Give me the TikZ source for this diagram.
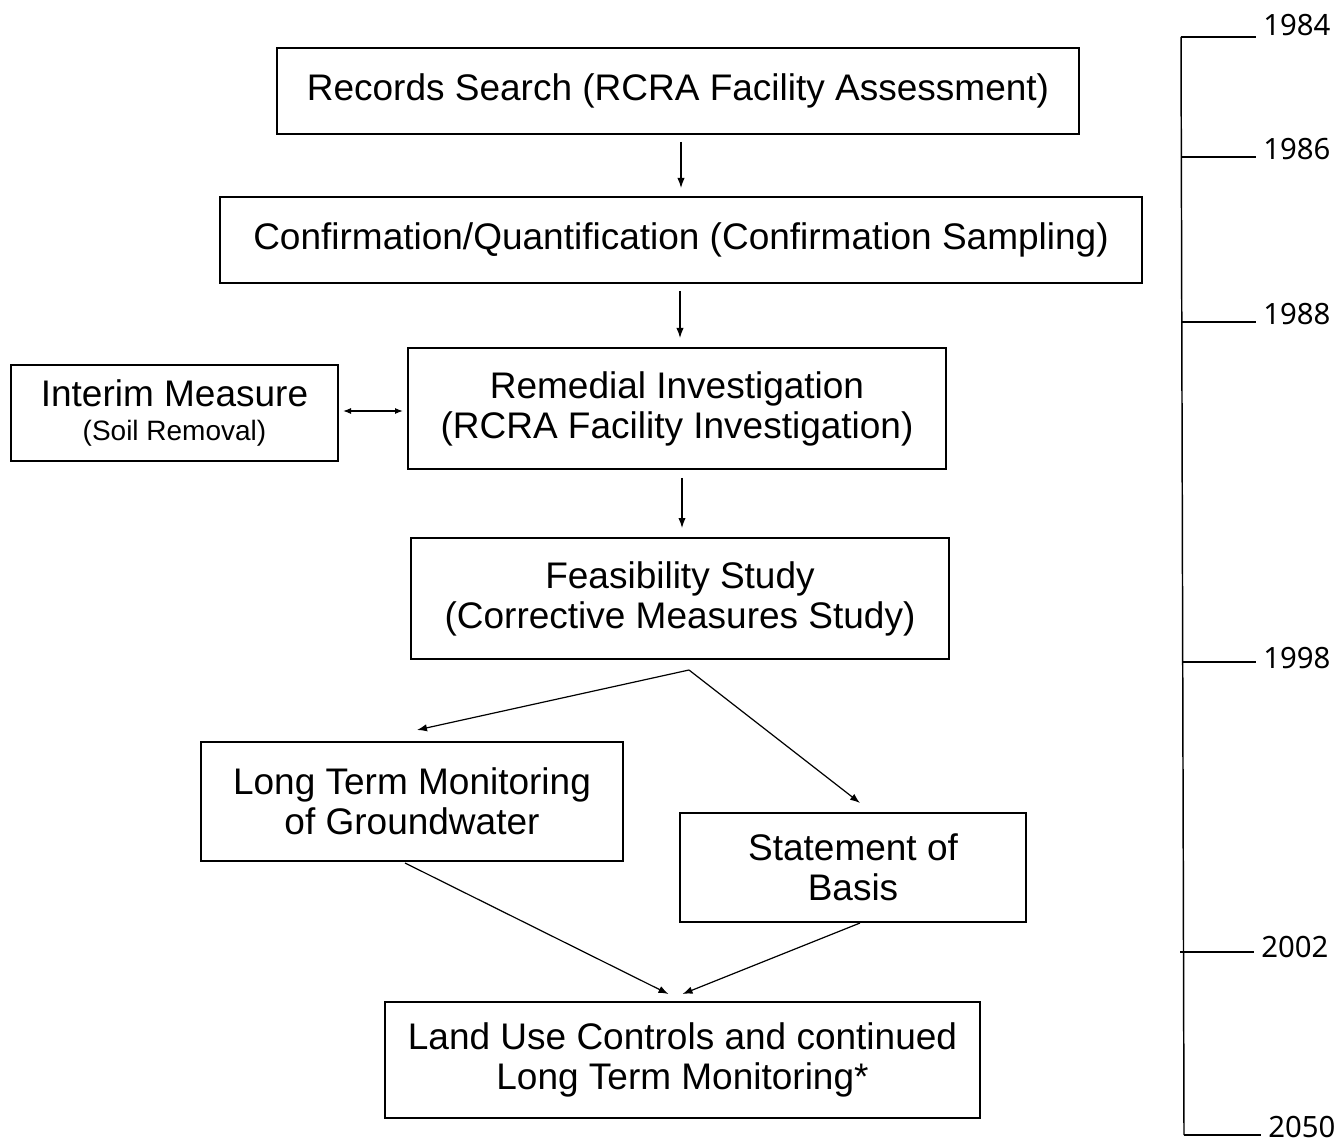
\documentclass[tikz,border=0pt]{standalone}
\usepackage{fontspec}
\setmainfont{Liberation Sans}
\newfontfamily\yearfont{Noto Sans}
\usetikzlibrary{arrows.meta,calc}
\begin{document}
\begin{tikzpicture}[x=0.75pt,y=-0.75pt,
  stepbox/.style={draw,line width=1.1pt,inner sep=0pt,outer sep=0pt,align=center,
    font=\fontsize{27.75pt}{30pt}\selectfont},
  flow/.style={line width=0.9pt,-{Latex[length=7.5pt,width=5.5pt]}},
  both/.style={line width=0.9pt,{Latex[length=6pt,width=4.5pt]}-{Latex[length=6pt,width=4.5pt]}},
  axis/.style={line width=1.1pt},
  year/.style={anchor=base west,inner sep=0pt,font=\yearfont\fontsize{22pt}{24pt}\selectfont}]
\useasboundingbox (0,0) rectangle (1338,1144);

% process boxes
\node[stepbox,minimum width={802*0.75pt},minimum height={86*0.75pt}] (rec) at (678,91)
  {Records Search (RCRA Facility Assessment)};
\node[stepbox,minimum width={922*0.75pt},minimum height={86*0.75pt}] (conf) at (681,240)
  {Confirmation/Quantification (Confirmation Sampling)};
\node[stepbox,minimum width={538*0.75pt},minimum height={121*0.75pt}] (rem) at (677,408.5)
  {Remedial Investigation\\(RCRA Facility Investigation)};
\node[stepbox,minimum width={327*0.75pt},minimum height={96*0.75pt}] (int) at (174.5,413)
  {Interim Measure\\[-4pt]{\fontsize{21pt}{24pt}\selectfont (Soil Removal)}};
\node[stepbox,minimum width={538*0.75pt},minimum height={121*0.75pt}] (feas) at (680,598.5)
  {Feasibility Study\\(Corrective Measures Study)};
\node[stepbox,minimum width={422*0.75pt},minimum height={119*0.75pt}] (ltm) at (412,801.5)
  {Long Term Monitoring\\of Groundwater};
\node[stepbox,minimum width={346*0.75pt},minimum height={109*0.75pt}] (stm) at (853,867.5)
  {Statement of\\Basis};
\node[stepbox,minimum width={595*0.75pt},minimum height={116*0.75pt}] (land) at (682.5,1060)
  {Land Use Controls and continued\\Long Term Monitoring*};

% connectors
\draw[flow] ($(rec.south)+(3,8)$) -- ($(conf.north)+(0,-9)$);
\draw[flow] ($(conf.south)+(-1,8)$) -- ($(rem.north)+(3,-10)$);
\draw[both] ($(int.east)+(5,-2)$) -- ($(rem.west)+(-5,2.5)$);
\draw[flow] ($(rem.south)+(5,9)$) -- ($(feas.north)+(2,-10)$);
\coordinate (fork) at ($(feas.south)+(9,11)$);
\draw[flow] (fork) -- ($(ltm.north west)+(216,-12)$);
\draw[flow] (fork) -- ($(stm.north)+(7,-10)$);
\draw[flow] ($(ltm.south)+(-7,2)$) -- ($(land.north)+(-14,-8)$);
\draw[flow] ($(stm.south)+(7,1)$) -- ($(land.north)+(0,-8)$);

% timeline
\coordinate (t84) at (1181,37);
\coordinate (t86) at (1181,157);
\coordinate (t88) at (1181,322);
\coordinate (t98) at (1182,662);
\coordinate (t02) at (1183,952);
\coordinate (t50) at (1184,1135);
\draw[axis] (t84) -- (t50);
\node[year] (y84) at (1263,36) {1984};
\node[year] (y86) at (1263,160) {1986};
\node[year] (y88) at (1263,325) {1988};
\node[year] (y98) at (1263,668) {1998};
\node[year] (y02) at (1261,957) {2002};
\node[year] (y50) at (1268,1137) {2050};
\draw[axis] (t84) -- ($(y84.base west)+(-7,1)$);
\draw[axis] (t86) -- ($(y86.base west)+(-7,-3)$);
\draw[axis] (t88) -- ($(y88.base west)+(-7,-3)$);
\draw[axis] (t98) -- ($(y98.base west)+(-7,-6)$);
\draw[axis] ($(t02)+(-3,0)$) -- ($(y02.base west)+(-7,-5)$);
\draw[axis] (t50) -- ($(y50.base west)+(-7,-2)$);
\end{tikzpicture}
\end{document}
